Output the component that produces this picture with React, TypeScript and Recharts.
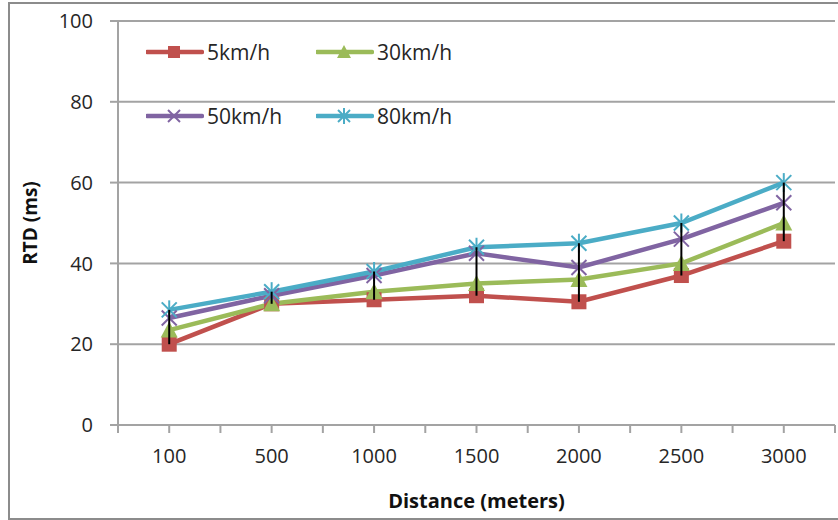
import React from 'react';
import {
  LineChart,
  Line,
  XAxis,
  YAxis,
  CartesianGrid,
  ErrorBar,
  Legend,
} from 'recharts';

const categories = ['100', '500', '1000', '1500', '2000', '2500', '3000'];
const speed5 = [20, 30, 31, 32, 30.5, 37, 45.5];
const speed30 = [23.5, 30, 33, 35, 36, 40, 50];
const speed50 = [26.5, 32, 37, 42.5, 39, 46, 55];
const speed80 = [28.5, 33, 38, 44, 45, 50, 60];
const yTicks = [0, 20, 40, 60, 80, 100];

const FONT = '"Open Sans", "Noto Sans", sans-serif';
const AXIS_GRAY = '#a3a3a3';
const TEXT = '#262626';

const data = categories.map((label, i) => {
  const vals = [speed5[i], speed30[i], speed50[i], speed80[i]];
  const lo = Math.min(...vals);
  const hi = Math.max(...vals);
  return {
    x: i + 0.5,
    label,
    s5: speed5[i],
    s30: speed30[i],
    s50: speed50[i],
    s80: speed80[i],
    hi,
    // high-low line, hangs down from the highest value
    hl: [hi - lo, 0],
  };
});

// boundary + center ticks, like the Excel category axis
const xTicks: number[] = [];
for (let i = 0; i <= categories.length * 2; i++) xTicks.push(i / 2);

type Shape = 'square' | 'triangle' | 'cross' | 'star';

const Marker = ({ shape, color, cx, cy, size }: { shape: Shape; color: string; cx: number; cy: number; size: number }) => {
  const h = size / 2;
  if (shape === 'square') {
    return <rect x={cx - h} y={cy - h} width={size} height={size} fill={color} />;
  }
  if (shape === 'triangle') {
    return <polygon points={`${cx},${cy - h - 1} ${cx + h + 1},${cy + h} ${cx - h - 1},${cy + h}`} fill={color} />;
  }
  return (
    <g stroke={color} strokeWidth={2}>
      <line x1={cx - h} y1={cy - h} x2={cx + h} y2={cy + h} />
      <line x1={cx - h} y1={cy + h} x2={cx + h} y2={cy - h} />
      {shape === 'star' && <line x1={cx} y1={cy - h - 2} x2={cx} y2={cy + h + 2} />}
    </g>
  );
};

const series = [
  { key: 's5', name: '5km/h', color: '#c0504d', shape: 'square' as Shape },
  { key: 's30', name: '30km/h', color: '#9bbb59', shape: 'triangle' as Shape },
  { key: 's50', name: '50km/h', color: '#8064a2', shape: 'cross' as Shape },
  { key: 's80', name: '80km/h', color: '#4bacc6', shape: 'star' as Shape },
];

const makeDot = (shape: Shape, color: string) => (props: any) => {
  const { cx, cy, index } = props;
  if (cx == null || cy == null) return <g key={`d-${index}`} />;
  return (
    <g key={`d-${shape}-${index}`}>
      <Marker shape={shape} color={color} cx={cx} cy={cy} size={15} />
    </g>
  );
};

const LegendBox = () => (
  <div style={{ position: 'relative', width: 340, height: 100, fontFamily: FONT }}>
    {series.map((s, i) => {
      const col = i % 2;
      const row = Math.floor(i / 2);
      return (
        <div
          key={s.key}
          style={{ position: 'absolute', left: col * 170, top: row * 64, display: 'flex', alignItems: 'center', height: 30 }}
        >
          <svg width={58} height={20}>
            <line x1={1} y1={10} x2={56} y2={10} stroke={s.color} strokeWidth={4.5} strokeLinecap="round" />
            <Marker shape={s.shape} color={s.color} cx={28} cy={10} size={12} />
          </svg>
          <span style={{ fontSize: 21, color: TEXT, marginLeft: 3 }}>{s.name}</span>
        </div>
      );
    })}
  </div>
);

export default function App() {
  return (
    <div style={{ position: 'absolute', left: 0, top: 0, width: 838, height: 520, overflow: 'hidden', background: '#fff' }}>
      <div
        style={{
          position: 'absolute',
          left: 8,
          top: 2,
          width: 900,
          height: 518,
          border: '2px solid #8c8c8c',
          boxSizing: 'border-box',
        }}
      />
      <div style={{ position: 'absolute', left: 0, top: 0 }}>
        <LineChart width={838} height={520} data={data} margin={{ top: 21, right: 3, left: 0, bottom: 0 }}>
          <CartesianGrid horizontal vertical={false} stroke={AXIS_GRAY} strokeWidth={2} />
          <XAxis
            type="number"
            dataKey="x"
            domain={[0, categories.length]}
            ticks={xTicks}
            interval={0}
            allowDecimals
            height={95}
            tickSize={8}
            tickMargin={16}
            stroke={AXIS_GRAY}
            axisLine={{ stroke: AXIS_GRAY, strokeWidth: 2 }}
            tickLine={{ stroke: AXIS_GRAY, strokeWidth: 2 }}
            tick={{ fill: TEXT, fontSize: 20, fontFamily: FONT }}
            tickFormatter={(v: number) => (v % 1 === 0.5 ? categories[Math.floor(v)] : '')}
            label={{
              value: 'Distance (meters)',
              position: 'insideBottom',
              offset: 12,
              style: { fill: '#111', fontSize: 20, fontWeight: 700, fontFamily: FONT },
            }}
          />
          <YAxis
            domain={[0, 100]}
            ticks={yTicks}
            interval={0}
            width={118}
            tickSize={8}
            tickMargin={17}
            axisLine={{ stroke: AXIS_GRAY, strokeWidth: 2 }}
            tickLine={{ stroke: AXIS_GRAY, strokeWidth: 2 }}
            tick={{ fill: TEXT, fontSize: 20, fontFamily: FONT }}
            label={{
              value: 'RTD (ms)',
              angle: -90,
              position: 'center',
              dx: -29,
              style: { fill: '#111', fontSize: 19, fontWeight: 700, fontFamily: FONT, textAnchor: 'middle' },
            }}
          />
          <Legend
            layout="horizontal"
            verticalAlign="middle"
            align="center"
            content={() => <LegendBox />}
            wrapperStyle={{ position: 'absolute', left: 146, top: 37, width: 340 }}
          />
          {series.map((s) => (
            <Line
              key={s.key}
              type="linear"
              dataKey={s.key}
              name={s.name}
              stroke={s.color}
              strokeWidth={4.5}
              dot={makeDot(s.shape, s.color)}
              activeDot={false}
              isAnimationActive={false}
            />
          ))}
          <Line
            type="linear"
            dataKey="hi"
            name="high-low"
            stroke="none"
            dot={false}
            activeDot={false}
            legendType="none"
            isAnimationActive={false}
            {...({ zIndex: 2000 } as any)}
          >
            <ErrorBar
              dataKey="hl"
              direction="y"
              width={0}
              stroke="#000"
              strokeWidth={2}
              isAnimationActive={false}
              {...({ zIndex: 2000 } as any)}
            />
          </Line>
        </LineChart>
      </div>
    </div>
  );
}
